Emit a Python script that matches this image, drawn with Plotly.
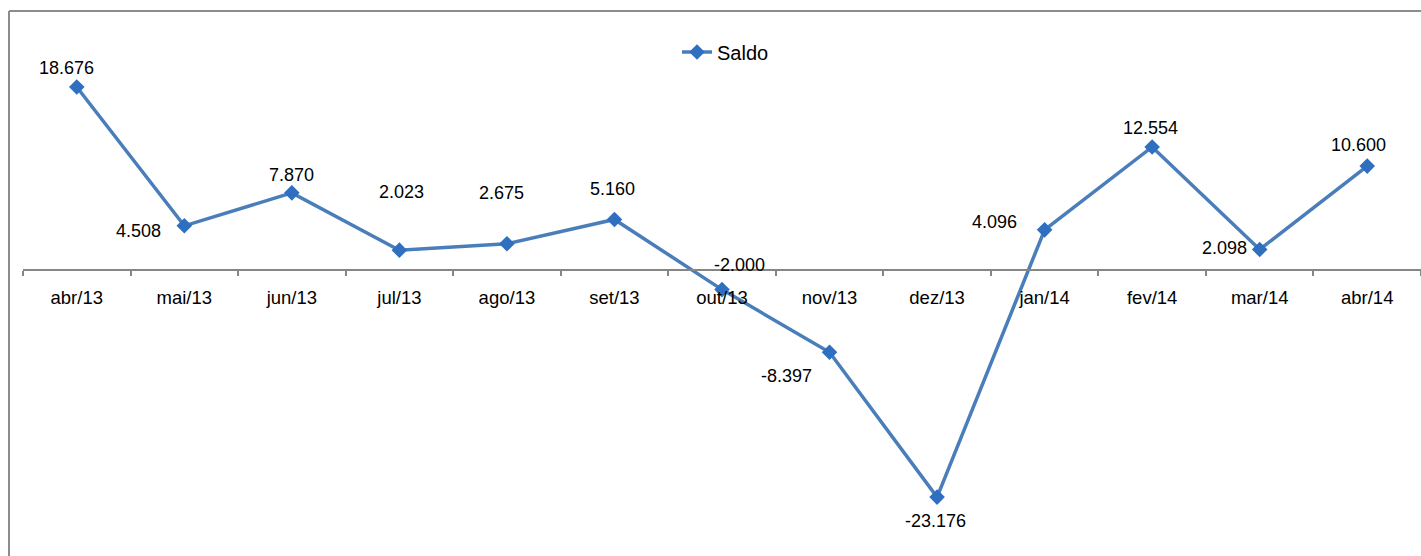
import plotly.graph_objects as go

categories = ["abr/13", "mai/13", "jun/13", "jul/13", "ago/13", "set/13", "out/13",
              "nov/13", "dez/13", "jan/14", "fev/14", "mar/14", "abr/14"]
saldo = [18676, 4508, 7870, 2023, 2675, 5160, -2000, -8397, -23176, 4096, 12554, 2098, 10600]
labels = ["18.676", "4.508", "7.870", "2.023", "2.675", "5.160", "-2.000",
          "-8.397", "-23.176", "4.096", "12.554", "2.098", "10.600"]
# label offsets (pixels) relative to each point, as placed in the original
label_dx = [-10, -46, 0, 2, -5, -2, 17, -43, -2, -50, -2, -35, -9]
label_dy = [19, -5, 18, 58, 51, 30, 25, -24, -24, 8, 19, 1, 21]

FONT = "Liberation Sans, Arial, sans-serif"

fig = go.Figure()
fig.add_trace(go.Scatter(
    x=categories, y=saldo, name="Saldo",
    mode="lines+markers",
    line=dict(color="#4a7ebb", width=3.5),
    marker=dict(symbol="diamond", size=12, color="#2f6fc0"),
    cliponaxis=False,
))

for c, v, t, dx, dy in zip(categories, saldo, labels, label_dx, label_dy):
    fig.add_annotation(x=c, y=v, text=t, showarrow=False, xshift=dx, yshift=dy,
                       xanchor="center", yanchor="middle",
                       font=dict(family=FONT, size=18, color="black"))

W, H = 1421, 556
L, R, T, B = 23, 0, 74, 41
ph = H - T - B
pw = W - L - R

fig.update_layout(
    width=W, height=H,
    margin=dict(l=L, r=R, t=T, b=B, pad=0),
    paper_bgcolor="white", plot_bgcolor="white",
    font=dict(family=FONT, size=18, color="black"),
    showlegend=True,
    legend=dict(orientation="h", x=(677 - L) / pw, xanchor="left",
                y=1 + (T - 52) / ph, yanchor="middle",
                font=dict(size=20), bgcolor="rgba(0,0,0,0)"),
    xaxis=dict(
        type="category", range=[-0.5, 12.5],
        anchor="free", position=(H - B - 270) / ph,
        showline=True, linecolor="#868686", linewidth=2,
        ticks="outside", tickson="boundaries", ticklen=5, tickcolor="#868686", tickwidth=1.5,
        showgrid=False, zeroline=False,
        tickfont=dict(size=18.5, color="black"),
        ticklabelstandoff=11,
    ),
    yaxis=dict(range=[-25000, 20000], visible=False, showgrid=False, zeroline=False),
    shapes=[
        dict(type="line", xref="paper", yref="paper",
             x0=(9 - L) / pw, x1=1.01, y0=1 + (T - 11) / ph, y1=1 + (T - 11) / ph,
             line=dict(color="#8c8c8c", width=2)),
        dict(type="line", xref="paper", yref="paper",
             x0=(9 - L) / pw, x1=(9 - L) / pw, y0=1 + (T - 11) / ph, y1=-0.2,
             line=dict(color="#8c8c8c", width=2)),
    ],
)

fig.write_html("out.html")
